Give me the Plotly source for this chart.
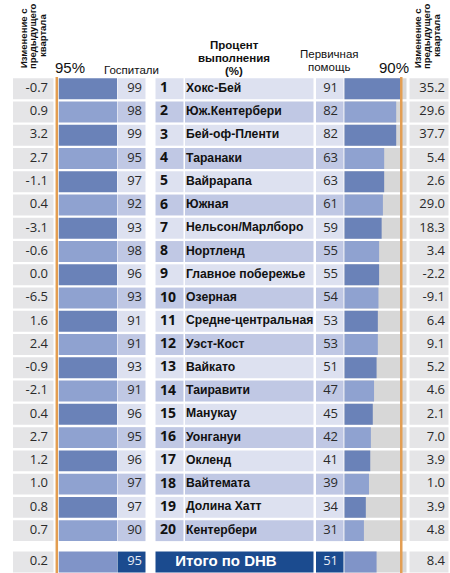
import plotly.graph_objects as go

# ---------------- data ----------------
regions = ["Хокс-Бей", "Юж.Кентербери", "Бей-оф-Пленти", "Таранаки", "Вайрарапа",
           "Южная", "Нельсон/Марлборо", "Нортленд", "Главное побережье", "Озерная",
           "Средне-центральная", "Уэст-Кост", "Вайкато", "Таиравити", "Манукау",
           "Уонгануи", "Окленд", "Вайтемата", "Долина Хатт", "Кентербери"]
ranks = list(range(1, 21))
hospital_pct = [99, 98, 99, 95, 97, 92, 93, 98, 96, 93, 91, 91, 93, 91, 96, 95, 96, 97, 97, 90]
hospital_change = [-0.7, 0.9, 3.2, 2.7, -1.1, 0.4, -3.1, -0.6, 0.0, -6.5,
                   1.6, 2.4, -0.9, -2.1, 0.4, 2.7, 1.2, 1.0, 0.8, 0.7]
primary_pct = [91, 82, 82, 63, 63, 61, 59, 55, 55, 54, 53, 53, 51, 47, 45, 42, 41, 39, 34, 31]
primary_change = [35.2, 29.6, 37.7, 5.4, 2.6, 29.0, 18.3, 3.4, -2.2, -9.1,
                  6.4, 9.1, 5.2, 4.6, 2.1, 7.0, 3.9, 1.0, 3.9, 4.8]
total_label = "Итого по DHB"
total_hospital = 95
total_hospital_change = 0.2
total_primary = 51
total_primary_change = 8.4
hospital_target = 95
primary_target = 90

# ---------------- layout constants ----------------
W, H = 450, 573
ROW0_PX, PITCH = 88.7, 23.26


def row_of_px(p):
    return (p - ROW0_PX) / PITCH


n = len(regions)
ys = list(range(n))
y_total = 20.35
all_y = ys + [y_total]

GRAY_CELL = "#e5e5e7"
LIGHT_CELL = "#dde1f0"
MID_CELL = "#c0c8e4"
NAVY = "#1b4b8f"
DARK_BAR = "#6a82b8"
LIGHT_BAR = "#8fa2d0"
TOTAL_BAR = "#8094c8"
BAR_BG = "#d7d7d7"
ORANGE = "#e39e52"
TXT = "#2a2a2a"

NUM_FONT = "Open Sans"
NAME_FONT = "Liberation Sans"

alt_cells = [LIGHT_CELL if i % 2 == 0 else MID_CELL for i in ys]
alt_bars = [DARK_BAR if i % 2 == 0 else LIGHT_BAR for i in ys]

fig = go.Figure()


def cells(x0, x1, colors, yy, width=0.9):
    fig.add_trace(go.Bar(orientation="h", y=yy, x=[x1 - x0] * len(yy), base=[x0] * len(yy),
                         width=width, marker=dict(color=colors, line=dict(width=0)),
                         hoverinfo="skip", showlegend=False, xaxis="x", yaxis="y"))


def texts(x, yy, t, pos, size, color, family, weight="normal"):
    fig.add_trace(go.Scatter(x=[x] * len(yy), y=yy, text=t, mode="text", textposition=pos,
                             textfont=dict(size=size, color=color, family=family, weight=weight),
                             hoverinfo="skip", showlegend=False, xaxis="x", yaxis="y"))


# cell backgrounds
cells(13, 53.5, [GRAY_CELL] * (n + 1), all_y)
cells(117.5, 145.5, alt_cells + [NAVY], all_y)
cells(155.5, 183.5, alt_cells, ys)
cells(185, 313.5, alt_cells, ys)
cells(155.5, 313.5, [NAVY], [y_total])
cells(316, 343.5, alt_cells + [NAVY], all_y)
cells(409.5, 448.5, [GRAY_CELL] * (n + 1), all_y)

# hospital bars (left)
fig.add_trace(go.Bar(orientation="h", y=all_y, x=hospital_pct + [total_hospital], width=0.9,
                     marker=dict(color=alt_bars + [TOTAL_BAR], line=dict(width=0)),
                     hoverinfo="skip", showlegend=False, xaxis="x2", yaxis="y"))

# primary bars (right) with grey track
fig.add_trace(go.Bar(orientation="h", y=all_y, x=[98.6] * (n + 1), width=0.9,
                     marker=dict(color=BAR_BG, line=dict(width=0)),
                     hoverinfo="skip", showlegend=False, xaxis="x3", yaxis="y"))
fig.add_trace(go.Bar(orientation="h", y=all_y, x=primary_pct + [total_primary], width=0.9,
                     marker=dict(color=alt_bars + [TOTAL_BAR], line=dict(width=0)),
                     hoverinfo="skip", showlegend=False, xaxis="x3", yaxis="y"))

# texts
fmt = lambda v: f"{v:.1f}"
texts(48, all_y, [fmt(v) for v in hospital_change] + [fmt(total_hospital_change)],
      "middle left", 13, TXT, NUM_FONT)
texts(142, ys, [str(v) for v in hospital_pct], "middle left", 13, TXT, NUM_FONT)
texts(142, [y_total], [str(total_hospital)], "middle left", 13, "#e8ecf6", NUM_FONT)
texts(160, ys, [str(r) for r in ranks], "middle right", 14, "#111111", NUM_FONT, "bold")
texts(186, ys, regions, "middle right", 12.2, "#111111", NAME_FONT, "bold")
texts(226, [y_total], [total_label], "middle center", 15, "#ffffff", NAME_FONT, "bold")
texts(338, ys, [str(v) for v in primary_pct], "middle left", 13, TXT, NUM_FONT)
texts(338, [y_total], [str(total_primary)], "middle left", 13, "#e8ecf6", NUM_FONT)
texts(445, all_y, [fmt(v) for v in primary_change] + [fmt(total_primary_change)],
      "middle left", 13, TXT, NUM_FONT)

# target lines
shapes = [
    dict(type="line", xref="x", yref="y", x0=56.8, x1=56.8,
         y0=row_of_px(77), y1=row_of_px(573), line=dict(color=ORANGE, width=2.5), layer="above"),
    dict(type="line", xref="x3", yref="y", x0=primary_target, x1=primary_target,
         y0=row_of_px(77), y1=row_of_px(573), line=dict(color=ORANGE, width=2.5), layer="above"),
]


def P(x, y):
    return x / W, 1 - y / H


ann = []


def note(x, y, text, size, bold=False, angle=0, family=NAME_FONT, color="#111111"):
    px_, py_ = P(x, y)
    ann.append(dict(x=px_, y=py_, xref="paper", yref="paper", text=text, showarrow=False,
                    textangle=angle, xanchor="center", yanchor="middle",
                    font=dict(size=size, family=family, color=color,
                              weight="bold" if bold else "normal")))


for cx in (0, 394):
    note(23 + cx, 39, "Изменение с", 9.5, True, -90)
    note(33 + cx, 36, "предыдущего", 9.5, True, -90)
    note(43 + cx, 36, "квартала", 9.5, True, -90)

note(70, 68, "95%", 15)
note(394, 68, "90%", 15)
note(131, 70, "Госпитали", 11.5)
note(234, 45, "Процент", 11.5, True)
note(234, 58, "выполнения", 11.5, True)
note(234, 71, "(%)", 11.5, True)
note(329, 54, "Первичная", 11.5)
note(329, 67, "помощь", 11.5)

fig.update_layout(
    width=W, height=H, margin=dict(l=0, r=0, t=0, b=0),
    paper_bgcolor="white", plot_bgcolor="rgba(0,0,0,0)",
    barmode="overlay", showlegend=False,
    xaxis=dict(range=[0, W], domain=[0, 1], visible=False, fixedrange=True),
    xaxis2=dict(range=[0, 90], domain=[58.5 / W, 117 / W], anchor="y", visible=False, fixedrange=True),
    xaxis3=dict(range=[0, 98.6], domain=[344.3 / W, 406.7 / W], anchor="y", visible=False, fixedrange=True),
    yaxis=dict(range=[row_of_px(H), row_of_px(0)], domain=[0, 1], visible=False, fixedrange=True),
    shapes=shapes, annotations=ann,
)

fig.write_html("out.html", config={"displayModeBar": False},
               post_script="document.body.style.margin='0';document.body.style.overflow='hidden';")
